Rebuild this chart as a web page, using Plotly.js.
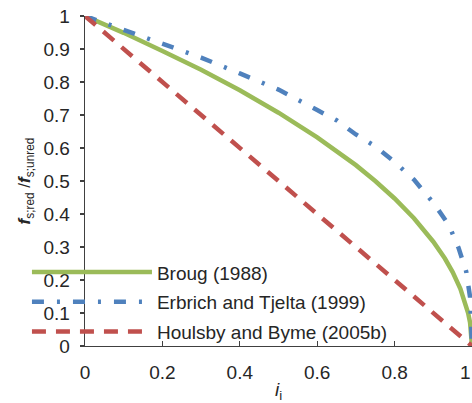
<!DOCTYPE html>
<html>
<head>
<meta charset="utf-8">
<script src="https://cdn.plot.ly/plotly-3.0.1.min.js"></script>
<style>html,body{margin:0;padding:0;background:#fff;}#chart{width:472px;height:403px;}</style>
</head>
<body>
<div id="chart"></div>
<script>
// Data
const seriesNames = ["Broug (1988)", "Erbrich and Tjelta (1999)", "Houlsby and Byme (2005b)"];

const brougI = [0, 0.05, 0.1, 0.2, 0.3, 0.4, 0.5, 0.6, 0.7, 0.75, 0.8, 0.85, 0.9, 0.93, 0.95, 0.97, 0.98, 0.99, 0.995, 0.999, 1];
const brougF = [1, 0.975, 0.949, 0.894, 0.837, 0.775, 0.707, 0.632, 0.548, 0.5, 0.447, 0.387, 0.316, 0.265, 0.224, 0.173, 0.141, 0.1, 0.071, 0.032, 0];

const erbrichI = [0, 0.1, 0.2, 0.3, 0.4, 0.5, 0.6, 0.65, 0.7, 0.75, 0.8, 0.85, 0.9, 0.94, 0.965, 0.985, 0.995, 0.999, 1];
const erbrichF = [1, 0.958, 0.917, 0.874, 0.826, 0.777, 0.715, 0.684, 0.641, 0.605, 0.558, 0.504, 0.434, 0.367, 0.298, 0.226, 0.148, 0.07, 0];

const houlsbyI = [0, 0.1, 0.2, 0.3, 0.4, 0.5, 0.6, 0.7, 0.8, 0.9, 1];
const houlsbyF = [1, 0.9, 0.8, 0.7, 0.6, 0.5, 0.4, 0.3, 0.2, 0.1, 0];

const xTicks = [0, 0.2, 0.4, 0.6, 0.8, 1];
const xTickText = ["0", "0.2", "0.4", "0.6", "0.8", "1"];
const yTicks = [0, 0.1, 0.2, 0.3, 0.4, 0.5, 0.6, 0.7, 0.8, 0.9, 1];
const yTickText = ["0", "0.1", "0.2", "0.3", "0.4", "0.5", "0.6", "0.7", "0.8", "0.9", "1"];

const FONT = "Arial, 'Liberation Sans', sans-serif";
const TXT = "#262626";

const traces = [
  {x: brougI, y: brougF, name: seriesNames[0], mode: "lines", legendgroup: "a",
   line: {color: "#9BBB59", width: 4.5}},
  {x: erbrichI, y: erbrichF, name: seriesNames[1], mode: "lines", legendgroup: "b",
   line: {color: "#4F81BD", width: 4.5, dash: "12px,13px,3px,13px"}},
  {x: houlsbyI, y: houlsbyF, name: seriesNames[2], mode: "lines", legendgroup: "c",
   line: {color: "#C0504D", width: 4.5, dash: "14px,10px"}}
];

const layout = {
  width: 472, height: 403,
  margin: {l: 85, r: 0, t: 16, b: 57},
  paper_bgcolor: "#fff", plot_bgcolor: "#fff",
  font: {family: FONT, size: 19, color: TXT},
  showlegend: true,
  legend: {
    x: -0.15, xanchor: "left", y: 0.281, yanchor: "top",
    bgcolor: "rgba(0,0,0,0)", borderwidth: 0,
    font: {family: FONT, size: 19, color: TXT},
    itemwidth: 120, traceorder: "grouped", tracegroupgap: 2
  },
  xaxis: {
    range: [0, 1], tickvals: xTicks, ticktext: xTickText,
    showgrid: false, zeroline: false, showline: true, linecolor: "#404040", linewidth: 1.3,
    ticks: "inside", ticklen: 5, tickcolor: "#404040", tickwidth: 1.3,
    ticklabelstandoff: 9,
    tickfont: {family: FONT, size: 19, color: TXT},
    title: {text: "<i>i</i><sub>i</sub>", font: {family: FONT, size: 19, color: TXT}, standoff: 6},
    fixedrange: true
  },
  yaxis: {
    range: [0, 1], tickvals: yTicks, ticktext: yTickText,
    showgrid: false, zeroline: false, showline: true, linecolor: "#404040", linewidth: 1.3,
    ticks: "outside", ticklen: 4, tickcolor: "#404040", tickwidth: 1.3,
    ticklabelstandoff: 6,
    tickfont: {family: FONT, size: 19, color: TXT},
    title: {text: "<b><i>f</i></b><sub>s;red</sub> /<b><i>f</i></b><sub>s;unred</sub>", font: {family: FONT, size: 17, color: TXT}, standoff: 8},
    fixedrange: true
  },
  annotations: [
    {x: 1, xref: "x", y: 0, yref: "paper", yshift: -14, xshift: 1, text: xTickText[5], showarrow: false,
     xanchor: "right", yanchor: "top", font: {family: FONT, size: 19, color: TXT}}
  ]
};

Plotly.newPlot("chart", traces, layout, {displayModeBar: false, staticPlot: true});
</script>
</body>
</html>
